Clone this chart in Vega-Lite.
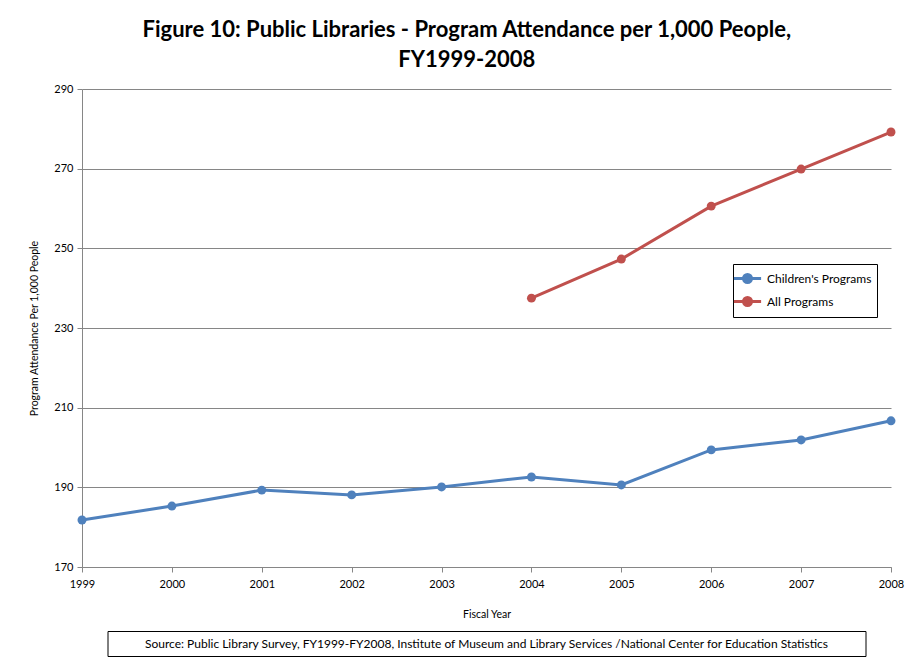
{
  "$schema": "https://vega.github.io/schema/vega-lite/v6.json",
  "background": "white",
  "padding": {"left": 29, "top": 19, "right": 12, "bottom": 8},
  "title": {
    "text": ["Figure 10: Public Libraries - Program Attendance per 1,000 People,", "FY1999-2008"],
    "font": "Lato",
    "fontSize": 22,
    "fontWeight": "bold",
    "color": "#000000",
    "lineHeight": 30,
    "anchor": "middle",
    "offset": 11
  },
  "config": {
    "font": "Lato",
    "view": {"stroke": null},
    "axis": {
      "labelFont": "Lato",
      "titleFont": "Lato",
      "labelColor": "#000000",
      "titleColor": "#000000",
      "titleFontWeight": "normal",
      "domainColor": "#868686",
      "tickColor": "#868686",
      "gridColor": "#868686",
      "labelFontSize": 11,
      "titleFontSize": 11
    }
  },
  "bounds": "flush",
  "center": true,
  "spacing": 64,
  "vconcat": [
    {
      "width": 809,
      "height": 478,
      "data": {
        "values": [
          {"year": 1999, "series": "Children's Programs", "value": 181.8},
          {"year": 2000, "series": "Children's Programs", "value": 185.3},
          {"year": 2001, "series": "Children's Programs", "value": 189.3},
          {"year": 2002, "series": "Children's Programs", "value": 188.1},
          {"year": 2003, "series": "Children's Programs", "value": 190.1},
          {"year": 2004, "series": "Children's Programs", "value": 192.6},
          {"year": 2005, "series": "Children's Programs", "value": 190.6},
          {"year": 2006, "series": "Children's Programs", "value": 199.4},
          {"year": 2007, "series": "Children's Programs", "value": 201.9},
          {"year": 2008, "series": "Children's Programs", "value": 206.7},
          {"year": 2004, "series": "All Programs", "value": 237.5},
          {"year": 2005, "series": "All Programs", "value": 247.3},
          {"year": 2006, "series": "All Programs", "value": 260.6},
          {"year": 2007, "series": "All Programs", "value": 269.9},
          {"year": 2008, "series": "All Programs", "value": 279.2}
        ]
      },
      "mark": {"type": "line", "strokeWidth": 3, "point": {"filled": true, "size": 80}},
      "encoding": {
        "x": {
          "field": "year",
          "type": "quantitative",
          "scale": {"domain": [1999, 2008], "nice": false, "zero": false},
          "axis": {
            "title": "Fiscal Year",
            "values": [1999, 2000, 2001, 2002, 2003, 2004, 2005, 2006, 2007, 2008],
            "format": "d",
            "grid": false,
            "labelFlush": false,
            "tickSize": 5,
            "labelPadding": 6,
            "titlePadding": 20,
            "titleFontSize": 10.5
          }
        },
        "y": {
          "field": "value",
          "type": "quantitative",
          "scale": {"domain": [170, 290], "nice": false, "zero": false},
          "axis": {
            "title": "Program Attendance Per 1,000 People",
            "values": [170, 190, 210, 230, 250, 270, 290],
            "grid": true,
            "labelFlush": false,
            "tickSize": 5,
            "labelPadding": 4,
            "titlePadding": 14,
            "titleFontSize": 10.5
          }
        },
        "color": {
          "field": "series",
          "type": "nominal",
          "sort": ["Children's Programs", "All Programs"],
          "scale": {"domain": ["Children's Programs", "All Programs"], "range": ["#4F81BD", "#C0504D"]},
          "legend": {
            "title": null,
            "orient": "none",
            "legendX": 651,
            "legendY": 175,
            "direction": "vertical",
            "strokeColor": "#000000",
            "fillColor": "#ffffff",
            "padding": 5,
            "rowPadding": 2,
            "labelFontSize": 12,
            "labelFont": "Lato",
            "labelColor": "#000000",
            "labelOffset": 10,
            "symbolType": "M-1.7,0L1.7,0M-0.5,0A0.5,0.5 0 1,0 0.5,0A0.5,0.5 0 1,0 -0.5,0",
            "symbolSize": 256,
            "symbolStrokeWidth": 3,
            "encode": {"symbols": {"update": {"fill": {"scale": "color", "field": "value"}}}}
          }
        }
      }
    },
    {
      "width": 758,
      "height": 25,
      "view": {"stroke": "#000000", "strokeWidth": 1},
      "data": {"values": [{"label": "Source: Public Library Survey, FY1999-FY2008, Institute  of Museum and Library Services /National  Center for Education Statistics"}]},
      "mark": {"type": "text", "fontSize": 12, "font": "Lato", "color": "#000000", "align": "center", "baseline": "middle"},
      "encoding": {
        "text": {"field": "label"},
        "x": {"value": 379},
        "y": {"value": 12.5}
      }
    }
  ]
}
